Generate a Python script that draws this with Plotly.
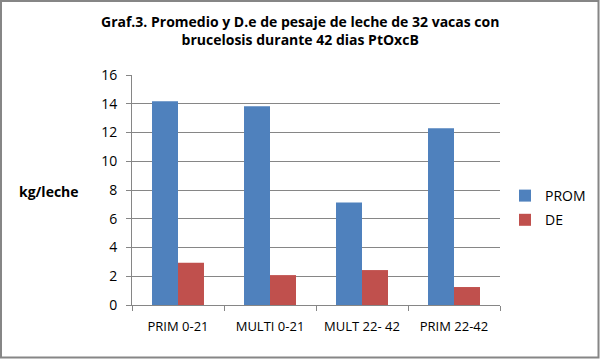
import plotly.graph_objects as go

categories = ["PRIM 0-21", "MULTI 0-21", "MULT 22- 42", "PRIM 22-42"]
prom = [14.17, 13.82, 7.13, 12.29]
de = [2.94, 2.08, 2.43, 1.25]
series_names = ["PROM", "DE"]
y_ticks = [0, 2, 4, 6, 8, 10, 12, 14, 16]

FONT = "Open Sans"
GRAY = "#868686"

fig = go.Figure()
fig.add_trace(go.Bar(x=categories, y=prom, name=series_names[0], legendgroup="a",
                     marker=dict(color="#4F81BD", line=dict(width=0))))
fig.add_trace(go.Bar(x=categories, y=de, name=series_names[1], legendgroup="b",
                     marker=dict(color="#C0504D", line=dict(width=0))))

L, R, T, B = 132, 100, 75, 56
W, H = 600, 361
pw = W - L - R
ph = H - T - B

def px2x(px):
    return (px - L) / pw

def py2y(py):
    return (H - B - py) / ph

fig.update_layout(
    width=W, height=H,
    margin=dict(l=L, r=R, t=T, b=B, autoexpand=False),
    paper_bgcolor="white", plot_bgcolor="white",
    barmode="group", bargap=0.435, bargroupgap=0,
    font=dict(family=FONT, size=14, color="black"),
    showlegend=True,
    legend=dict(x=px2x(505), y=py2y(180), xanchor="left", yanchor="top",
                font=dict(size=14), tracegroupgap=3, itemwidth=30,
                bgcolor="rgba(0,0,0,0)"),
    xaxis=dict(type="category", showline=True, linecolor=GRAY, linewidth=1,
               ticks="outside", tickson="boundaries", ticklen=5, tickcolor=GRAY,
               showgrid=False, tickfont=dict(size=13), ticklabelstandoff=9,
               tickangle=0, automargin=False),
    yaxis=dict(range=[0, 16], tickvals=y_ticks, showline=True, linecolor=GRAY, linewidth=1,
               ticks="outside", ticklen=5, tickcolor=GRAY, showgrid=True, gridcolor=GRAY,
               gridwidth=1, zeroline=False, tickfont=dict(size=14), ticklabelstandoff=6,
               automargin=False),
    annotations=[
        dict(text="<b>Graf.3. Promedio y D.e de pesaje de leche de 32 vacas con<br>brucelosis durante 42 dias PtOxcB</b>",
             xref="paper", yref="paper", x=px2x(300), y=py2y(30), xanchor="center", yanchor="middle",
             showarrow=False, font=dict(size=14, family=FONT)),
        dict(text="<b>kg/leche</b>", xref="paper", yref="paper", x=px2x(49), y=py2y(191),
             xanchor="center", yanchor="middle", showarrow=False, font=dict(size=14, family=FONT)),
    ],
    shapes=[dict(type="rect", xref="paper", yref="paper",
                 x0=px2x(1), x1=px2x(598.5), y0=py2y(357.5), y1=py2y(1),
                 line=dict(color=GRAY, width=2), fillcolor="rgba(0,0,0,0)", layer="below")],
)

fig.write_html("out.html", config={"displayModeBar": False},
               post_script="document.body.style.margin='0';")
